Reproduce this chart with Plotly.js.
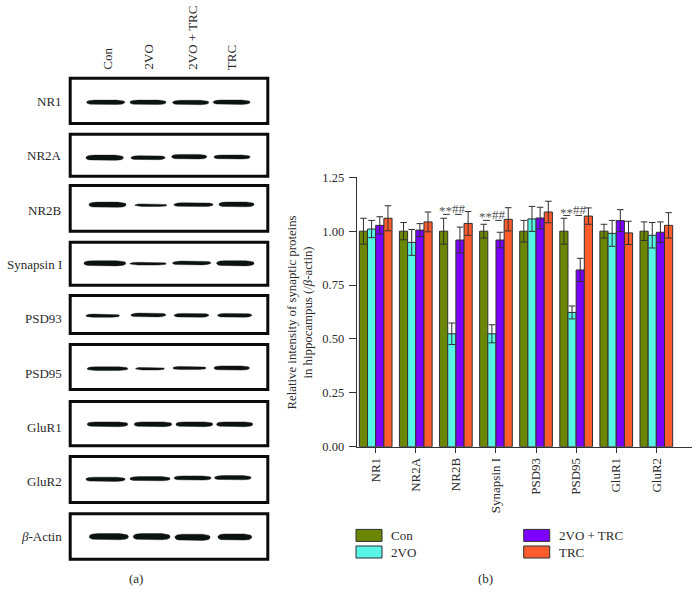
<!DOCTYPE html>
<html><head><meta charset="utf-8">
<script src="https://cdn.plot.ly/plotly-3.0.1.min.js"></script>
<style>html,body{margin:0;padding:0;background:#fff}#c{width:700px;height:605px}
.blur-band{filter:blur(0.6px)}</style>
</head><body><div id="c"></div>
<script>
// ---- panel (b) data ----
const categories = ["NR1","NR2A","NR2B","Synapsin I","PSD93","PSD95","GluR1","GluR2"];
const seriesNames = ["Con","2VO","2VO + TRC","TRC"];
const con   = [1,1,1,1,1,1,1,1];
const vo    = [1.01,0.948,0.524,0.524,1.057,0.623,0.99,0.981];
const voTrc = [1.027,1.005,0.959,0.959,1.061,0.82,1.049,0.995];
const trc   = [1.06,1.043,1.036,1.055,1.089,1.07,0.992,1.027];
const conErr   = [0.06,0.04,0.06,0.032,0.05,0.06,0.032,0.043];
const voErr    = [0.04,0.06,0.05,0.042,0.058,0.03,0.06,0.059];
const voTrcErr = [0.04,0.03,0.06,0.036,0.05,0.054,0.051,0.048];
const trcErr   = [0.058,0.046,0.055,0.054,0.05,0.038,0.054,0.059];
const colors = ["#6b8600","#57f5e6","#7b00ff","#ff5c2e"];
const sigGroups = ["NR2B","Synapsin I","PSD95"];
const sigLevel  = [1.094,1.066,1.089];

// ---- panel (a) data: blot rows; lanes are [start, end, centre, half-thickness] ----
const blotLabels = ["NR1","NR2A","NR2B","Synapsin I","PSD93","PSD95","GluR1","GluR2","<i>β</i>-Actin"];
const laneLabels = ["Con","2VO","2VO + TRC","TRC"];
const boxTop    = [76.7,132.7,184,240.7,294,343,400,455,512.3];
const boxBottom = [125,177.7,232.7,286.7,335,391,447.3,504,560.7];
const bands = [
 [[86.7,124.7,102.3,2.2],[130,166,102.3,2.2],[172.7,208.7,102.5,2.2],[213.3,250,102.2,2.2]],
 [[86,123.3,157.7,2.6],[131,165,157.7,2],[171.7,206.7,156.7,2.3],[214,250,157,2]],
 [[89,126,204.7,2.6],[135,166.7,205.2,1.3],[174,213,204.7,1.9],[219,254,204.4,2.4]],
 [[84,125.7,263.3,2.6],[130,166,263.7,1.4],[172.7,210.7,263,1.9],[216.7,254,263.3,2.6]],
 [[86,119.3,315.7,1.6],[131,165.7,315,1.9],[174.3,208.7,315.3,1.9],[217.7,251.7,315.3,1.9]],
 [[87.3,127.7,368.7,1.9],[135.7,164.3,368.7,1.3],[173,205.7,368,1.6],[214,249.3,368,2.1]],
 [[87.3,127.7,424.3,2.4],[134.3,171.7,424.3,2.4],[176,212.7,424.3,2.4],[216.7,252.7,424.3,2.4]],
 [[86,125,479.3,2.1],[130,170,478.7,2.1],[174.3,211,478,2.1],[214.7,251,477.7,2.1]],
 [[89.3,128.3,536.7,3.1],[133.3,170,536.7,3.1],[175,210,537.3,3.1],[218,251.7,537,3.1]]
];

const FONT = "Liberation Serif, Times New Roman, serif";
const W = 700, H = 605;
const px = {left:356.7,right:692,top:177.3,bottom:446.7};

const errStyle = {color:"#2f2f2f",thickness:1,width:3.3};
const values = [con,vo,voTrc,trc], errs = [conErr,voErr,voTrcErr,trcErr];
const traces = values.map((v,i)=>({
  type:"bar",name:seriesNames[i],x:categories.map((_,k)=>k),y:v,
  marker:{color:colors[i],line:{color:"#2f2f2f",width:1}},
  error_y:Object.assign({type:"data",array:errs[i],visible:true},errStyle),
  hoverinfo:"y+name",showlegend:false
}));

// western-blot bands on a page-scale overlay axis
const bandTraceStart = traces.length;
bands.forEach(row=>{
  const xs=[],ys=[];
  row.forEach(b=>{
    const w=b[1]-b[0], l=b[0], r=b[1], c=b[2], h=b[3];
    const prof=[[0,0.25],[0.03,0.6],[0.09,0.85],[0.22,1]];
    const top=[], bot=[];
    prof.forEach(p=>{top.push([l+w*p[0],c-h*p[1]]);bot.push([l+w*p[0],c+h*p[1]]);});
    prof.slice().reverse().forEach(p=>{top.push([r-w*p[0],c-h*p[1]]);bot.push([r-w*p[0],c+h*p[1]]);});
    top.concat(bot.reverse()).forEach(q=>{xs.push(q[0]);ys.push(q[1]);});
    xs.push(top[0][0],null);ys.push(top[0][1],null);
  });
  traces.push({type:"scatter",mode:"lines",x:xs,y:ys,xaxis:"x2",yaxis:"y2",
    fill:"toself",fillcolor:"#0c1210",line:{color:"rgba(20,30,28,0.5)",width:0.8},
    hoverinfo:"skip",showlegend:false,connectgaps:false});
});

const shapes=[], annotations=[];
const txt=(text,x,y,o)=>annotations.push(Object.assign({text,x,y,xref:"x2",yref:"y2",showarrow:false,
   font:{family:FONT,size:13,color:"#2b2b2b"},xanchor:"center",yanchor:"middle"},o||{}));

boxTop.forEach((t,i)=>{
  shapes.push({type:"rect",xref:"x2",yref:"y2",x0:70.2,x1:267.8,y0:t+1.5,y1:boxBottom[i]-1.5,
    line:{color:"#0a0a0a",width:3}});
});
const rowLabelY=[101,155.7,210,264,318.5,373,427,481,536.5];
blotLabels.forEach((l,i)=>txt(l,64,rowLabelY[i],{xanchor:"right"}));
[106.7,148,191.7,231.7].forEach((x,i)=>txt(laneLabels[i],x,72,{textangle:-90,yanchor:"bottom"}));
txt("(a)",135.7,578);
txt("(b)",485,578);
txt("Relative intensity of synaptic proteins<br>in hippocampus (/<i>β</i>-actin)",300,312.5,{textangle:-90,font:{family:FONT,size:12.8,color:"#2b2b2b"}});

// legend swatches
const lg=[[356,535.4,0],[356,552,1],[523.7,535.4,2],[523.7,552,3]];
lg.forEach(l=>{
  shapes.push({type:"rect",xref:"x2",yref:"y2",x0:l[0],x1:l[0]+26,y0:l[1]-6,y1:l[1]+6,
     fillcolor:colors[l[2]],line:{color:"#2f2f2f",width:1}});
  txt(seriesNames[l[2]],l[0]+33,l[1],{xanchor:"left"});
});

// significance marks on the data scale
sigGroups.forEach((g,i)=>{
  const k=categories.indexOf(g), y=sigLevel[i];
  const sf={family:FONT,size:13,color:"#555"};
  annotations.push({text:"**",x:k-0.25,y:y,xref:"x",yref:"y",showarrow:false,yanchor:"middle",font:sf});
  annotations.push({text:"##",x:k+0.085,y:y+0.012,xref:"x",yref:"y",showarrow:false,yanchor:"middle",font:sf});
  [[-0.32,-0.15],[-0.02,0.145]].forEach(d=>shapes.push({type:"line",xref:"x",yref:"y",x0:k+d[0],x1:k+d[1],
     y0:y-0.016,y1:y-0.016,line:{color:"#333",width:1}}));
});

const layout={
  width:W,height:H,margin:{l:0,r:0,t:0,b:0},paper_bgcolor:"#fff",plot_bgcolor:"rgba(0,0,0,0)",
  font:{family:FONT,size:13,color:"#2b2b2b"},
  barmode:"group",bargap:0.185,bargroupgap:0,showlegend:false,
  xaxis:{domain:[px.left/W,px.right/W],range:[-0.474,7.89],tickmode:"array",
    tickvals:categories.map((_,k)=>k),ticktext:categories,tickangle:-90,ticks:"outside",ticklen:5,tickwidth:1,
    tickcolor:"#333",showline:true,linecolor:"#333",linewidth:1,showgrid:false,zeroline:false,
    tickfont:{family:FONT,size:13,color:"#2b2b2b"},anchor:"y"},
  yaxis:{domain:[1-px.bottom/H,1-px.top/H],range:[0,1.25],tickmode:"array",
    tickvals:[0,0.25,0.5,0.75,1,1.25],ticktext:["0.00","0.25","0.50","0.75","1.00","1.25"],
    ticks:"outside",ticklen:7,tickwidth:1,tickcolor:"#333",showline:true,linecolor:"#333",linewidth:1,
    ticklabelstandoff:2,showgrid:false,zeroline:false,tickfont:{family:FONT,size:12.5,color:"#2b2b2b"},anchor:"x"},
  xaxis2:{domain:[0,1],range:[0,W],visible:false,fixedrange:true,anchor:"y2"},
  yaxis2:{domain:[0,1],range:[H,0],visible:false,fixedrange:true,anchor:"x2"},
  shapes,annotations
};
Plotly.newPlot("c",traces,layout,{displayModeBar:false,staticPlot:true}).then(gd=>{
  gd.querySelectorAll(".x2y2 .scatterlayer .trace").forEach(t=>t.classList.add("blur-band"));
});
</script></body></html>
